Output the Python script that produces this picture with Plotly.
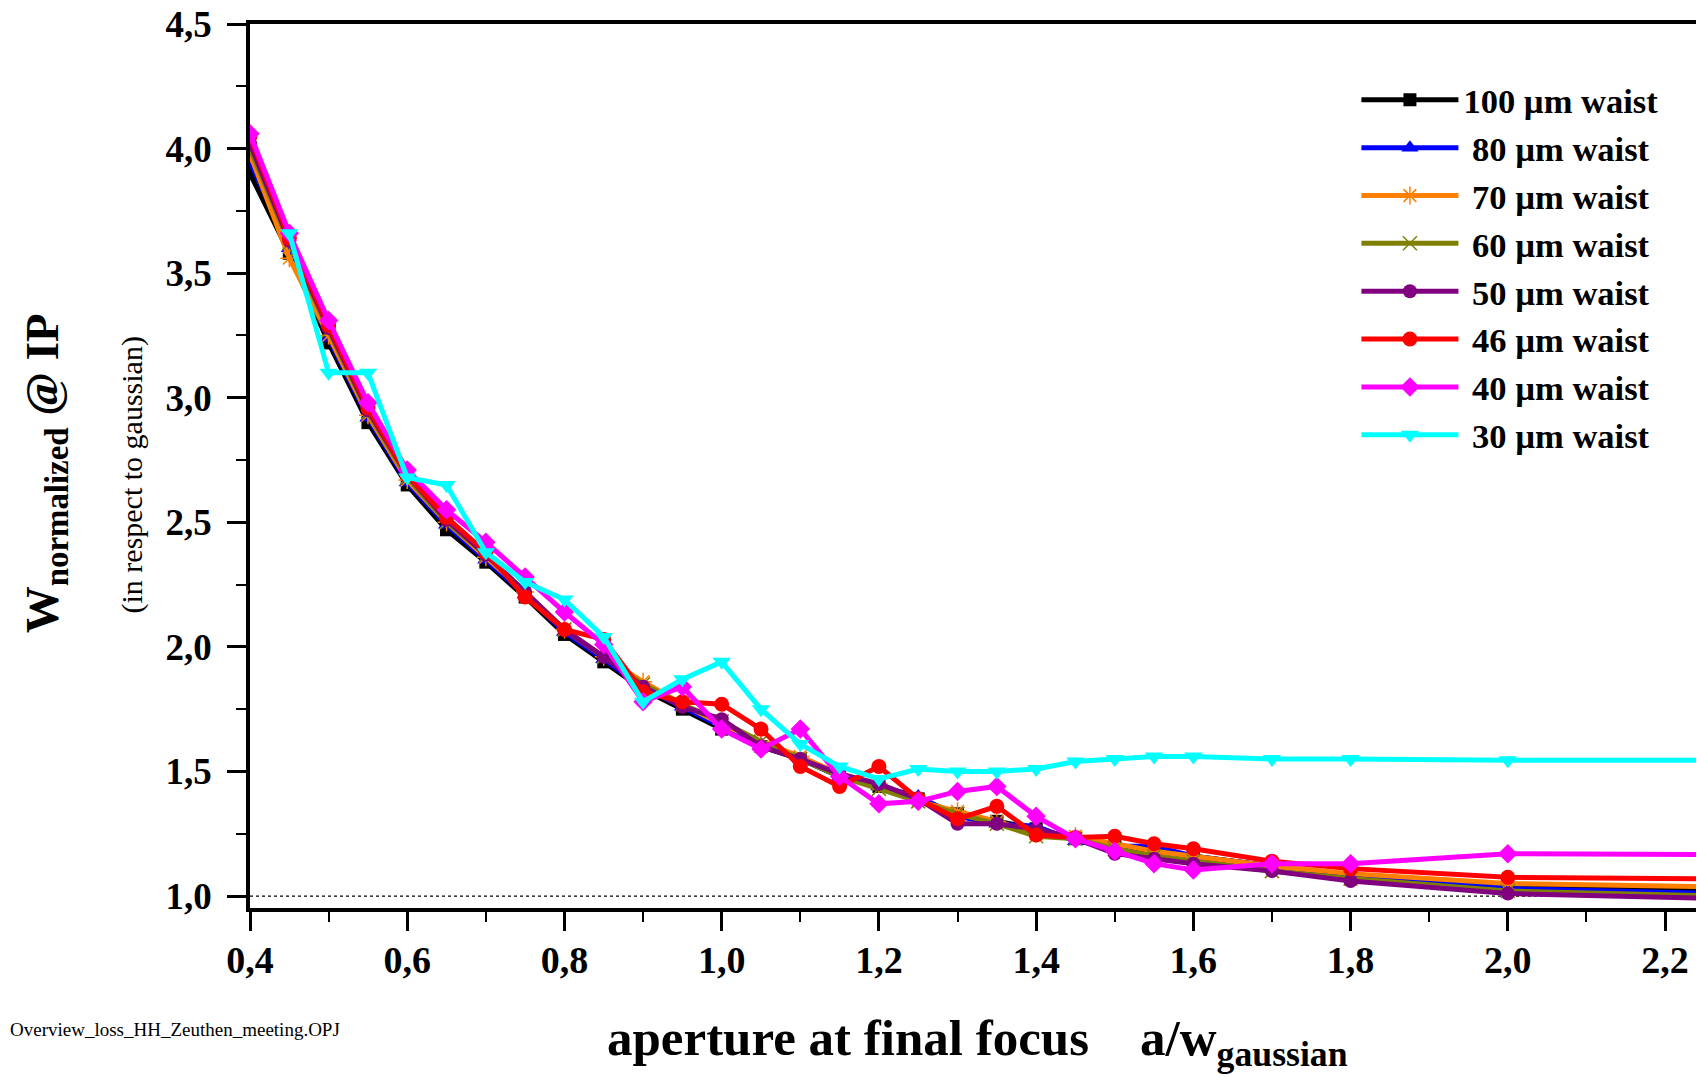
import plotly.graph_objects as go

x_vals = [0.4, 0.45, 0.5, 0.55, 0.6, 0.65, 0.7, 0.75, 0.8, 0.85, 0.9, 0.95, 1.0, 1.05, 1.1,
          1.15, 1.2, 1.25, 1.3, 1.35, 1.4, 1.45, 1.5, 1.55, 1.6, 1.7, 1.8, 2.0, 2.4]

w100 = [3.90, 3.58, 3.22, 2.90, 2.65, 2.47, 2.34, 2.20, 2.05, 1.94, 1.83, 1.75, 1.67, 1.60, 1.55,
        1.48, 1.44, 1.39, 1.33, 1.30, 1.27, 1.23, 1.20, 1.18, 1.16, 1.12, 1.08, 1.04, 1.01]
w80 = [3.95, 3.60, 3.24, 2.92, 2.66, 2.49, 2.35, 2.21, 2.06, 1.95, 1.84, 1.76, 1.68, 1.61, 1.55,
       1.48, 1.44, 1.40, 1.32, 1.29, 1.28, 1.22, 1.20, 1.20, 1.16, 1.12, 1.08, 1.03, 1.00]
w70 = [3.98, 3.56, 3.25, 2.93, 2.67, 2.50, 2.36, 2.22, 2.07, 1.96, 1.86, 1.77, 1.69, 1.62, 1.56,
       1.49, 1.45, 1.38, 1.34, 1.30, 1.25, 1.24, 1.21, 1.18, 1.16, 1.12, 1.09, 1.05, 1.03]
w60 = [4.00, 3.62, 3.27, 2.94, 2.68, 2.50, 2.37, 2.22, 2.07, 1.96, 1.85, 1.77, 1.70, 1.62, 1.55,
       1.48, 1.43, 1.38, 1.33, 1.29, 1.24, 1.23, 1.19, 1.16, 1.14, 1.10, 1.07, 1.02, 0.99]
w50 = [4.02, 3.63, 3.28, 2.95, 2.69, 2.51, 2.37, 2.22, 2.07, 1.96, 1.84, 1.76, 1.71, 1.60, 1.55,
       1.49, 1.45, 1.39, 1.29, 1.29, 1.27, 1.23, 1.17, 1.15, 1.13, 1.10, 1.06, 1.01, 0.98]
w46 = [4.05, 3.64, 3.29, 2.96, 2.69, 2.52, 2.38, 2.20, 2.07, 2.03, 1.82, 1.78, 1.77, 1.67, 1.52,
       1.44, 1.52, 1.39, 1.31, 1.36, 1.245, 1.235, 1.24, 1.21, 1.19, 1.14, 1.11, 1.075, 1.065]
w40 = [4.06, 3.66, 3.31, 2.98, 2.71, 2.55, 2.42, 2.28, 2.14, 2.01, 1.78, 1.84, 1.67, 1.59, 1.67,
       1.48, 1.37, 1.38, 1.42, 1.44, 1.32, 1.23, 1.18, 1.13, 1.105, 1.13, 1.13, 1.17, 1.165]
w30 = [None, 3.66, 3.10, 3.10, 2.68, 2.65, 2.38, 2.26, 2.19, 2.04, 1.78, 1.87, 1.94, 1.75, 1.61,
       1.52, 1.47, 1.51, 1.50, 1.50, 1.51, 1.54, 1.55, 1.56, 1.56, 1.55, 1.55, 1.545, 1.545]

series_names = ["100 µm waist", "\u00a080 µm waist", "\u00a070 µm waist", "\u00a060 µm waist",
                "\u00a050 µm waist", "\u00a046 µm waist", "\u00a040 µm waist", "\u00a030 µm waist"]
series_values = [w100, w80, w70, w60, w50, w46, w40, w30]
colors = ["#000000", "#0000FF", "#FF8000", "#808000", "#800080", "#FF0000", "#FF00FF", "#00FFFF"]
symbols = ["square", "triangle-up", "asterisk-open", "x-thin-open", "circle", "circle",
           "diamond", "triangle-down"]
msizes = [13, 15, 15, 14, 14, 15, 15, 16]

x_ticks = [0.4, 0.6, 0.8, 1.0, 1.2, 1.4, 1.6, 1.8, 2.0, 2.2]
y_ticks = [1.0, 1.5, 2.0, 2.5, 3.0, 3.5, 4.0, 4.5]

FONT = "Liberation Serif"

fig = go.Figure()
for name, vals, c, s, ms in zip(series_names, series_values, colors, symbols, msizes):
    marker = dict(symbol=s, size=ms, color=c)
    if s.endswith("open"):
        marker["line"] = dict(color=c, width=1.5)
    fig.add_trace(go.Scatter(
        x=x_vals, y=vals, mode="lines+markers", name=name,
        line=dict(color=c, width=5), marker=marker, connectgaps=False,
        cliponaxis=True,
    ))

fig.add_shape(type="line", xref="paper", yref="y", x0=0, x1=1, y0=1.0, y1=1.0,
              line=dict(color="black", width=1.2, dash="dot"), layer="below")

fig.update_layout(
    width=1696, height=1069,
    margin=dict(l=242, r=2, t=16, b=169, autoexpand=False),
    paper_bgcolor="white", plot_bgcolor="white",
    separators=",.",
    font=dict(family=FONT, color="black"),
    showlegend=True,
    legend=dict(
        x=0.762, y=0.947, xanchor="left", yanchor="top",
        font=dict(family=FONT, size=34.5, color="black", weight="bold"),
        itemwidth=97, bgcolor="rgba(0,0,0,0)", tracegroupgap=0,
    ),
    xaxis=dict(
        range=[0.4, 2.247], tickvals=x_ticks, tickformat=".1f",
        ticks="outside", ticklen=19, tickwidth=2.5, tickcolor="black",
        minor=dict(dtick=0.1, ticks="outside", ticklen=10, tickwidth=2, tickcolor="black"),
        showline=True, linecolor="black", linewidth=3.5, mirror=True,
        showgrid=False, zeroline=False, automargin=False,
        tickfont=dict(family=FONT, size=38, color="black", weight="bold"),
        ticklabelstandoff=-3, ticklabeloverflow="allow",
    ),
    yaxis=dict(
        range=[0.952, 4.5], tickvals=y_ticks, tickformat=".1f",
        ticks="outside", ticklen=19, tickwidth=2.5, tickcolor="black",
        minor=dict(dtick=0.25, ticks="outside", ticklen=10, tickwidth=2, tickcolor="black"),
        showline=True, linecolor="black", linewidth=3.5, mirror=True,
        showgrid=False, zeroline=False, automargin=False,
        tickfont=dict(family=FONT, size=37, color="black", weight="bold"),
        ticklabelstandoff=8, ticklabeloverflow="allow",
    ),
)

fig.add_annotation(
    text="<b>W<sub>normalized</sub> @ IP</b>", xref="paper", yref="paper",
    x=-0.141, y=0.492, xanchor="center", yanchor="middle",
    textangle=-90, showarrow=False,
    font=dict(family=FONT, size=47, color="black"),
)
fig.add_annotation(
    text="(in respect to gaussian)", xref="paper", yref="paper",
    x=-0.0815, y=0.49, xanchor="center", yanchor="middle",
    textangle=-90, showarrow=False,
    font=dict(family=FONT, size=30, color="black"),
)
fig.add_annotation(
    text="<b>aperture at final focus    a/w<sub>gaussian</sub></b>", xref="paper", yref="paper",
    x=0.5007, y=-0.152, xanchor="center", yanchor="middle", showarrow=False,
    font=dict(family=FONT, size=51, color="black"),
)
fig.add_annotation(
    text="Overview_loss_HH_Zeuthen_meeting.OPJ", xref="paper", yref="paper",
    x=-0.1664, y=-0.138, xanchor="left", yanchor="middle", showarrow=False,
    font=dict(family=FONT, size=19, color="black"),
)

fig.write_html("out.html")
